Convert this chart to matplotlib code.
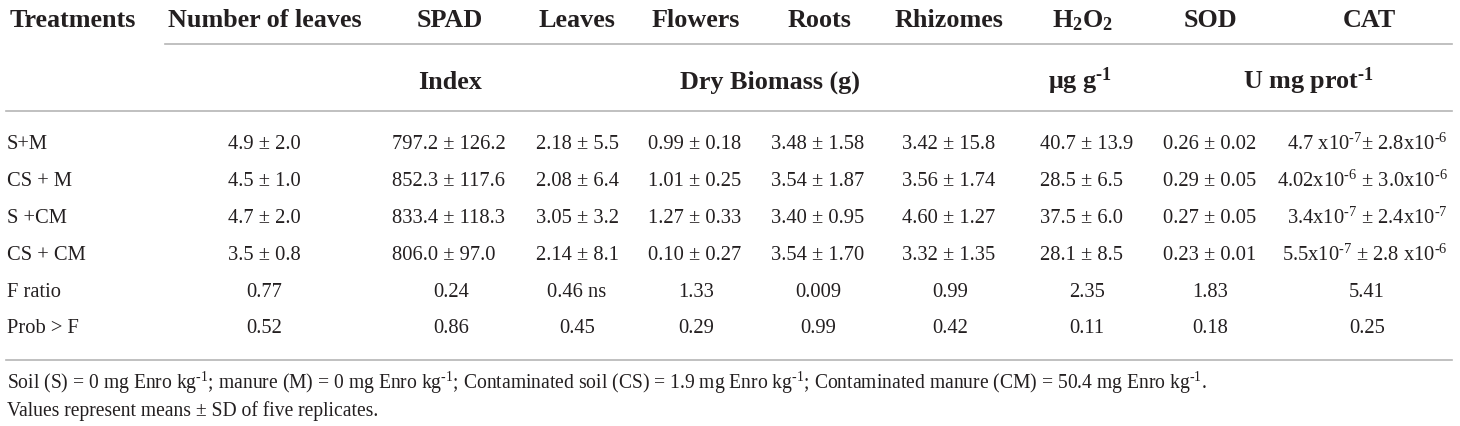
import matplotlib
matplotlib.use("Agg")
import matplotlib.pyplot as plt
from matplotlib.lines import Line2D

plt.rcParams['font.family'] = ['Liberation Serif', 'DejaVu Serif']
plt.rcParams['mathtext.fontset'] = 'custom'
plt.rcParams['mathtext.rm'] = 'Liberation Serif'
plt.rcParams['mathtext.it'] = 'Liberation Serif:italic'
plt.rcParams['mathtext.bf'] = 'Liberation Serif:bold'

HY = '\u2010'  # hyphen used in the superscripts

# ---------------- data ----------------
header_top = ["Treatments", "Number of leaves", "SPAD", "Leaves", "Flowers", "Roots",
              "Rhizomes", r"$\mathbf{H_2O_2}$", "SOD", "CAT"]
unit_index = "Index"
unit_biomass = "Dry Biomass (g)"
unit_h2o2 = r"μg g$^{\mathbf{" + HY + "1}}$"
unit_enzyme = r"U mg prot$^{\mathbf{" + HY + "1}}$"

treatments = ["S+M", "CS + M", "S +CM", "CS + CM"]
number_of_leaves = ["4.9 ± 2.0", "4.5 ± 1.0", "4.7 ± 2.0", "3.5 ± 0.8"]
spad = ["797.2 ± 126.2", "852.3 ± 117.6", "833.4 ± 118.3", "806.0 ± 97.0"]
leaves = ["2.18 ± 5.5", "2.08 ± 6.4", "3.05 ± 3.2", "2.14 ± 8.1"]
flowers = ["0.99 ± 0.18", "1.01 ± 0.25", "1.27 ± 0.33", "0.10 ± 0.27"]
roots = ["3.48 ± 1.58", "3.54 ± 1.87", "3.40 ± 0.95", "3.54 ± 1.70"]
rhizomes = ["3.42 ± 15.8", "3.56 ± 1.74", "4.60 ± 1.27", "3.32 ± 1.35"]
h2o2 = ["40.7 ± 13.9", "28.5 ± 6.5", "37.5 ± 6.0", "28.1 ± 8.5"]
sod = ["0.26 ± 0.02", "0.29 ± 0.05", "0.27 ± 0.05", "0.23 ± 0.01"]
cat = ["4.7 x10$^{" + HY + "7}$± 2.8x10$^{" + HY + "6}$",
       "4.02x10$^{" + HY + "6}$ ± 3.0x10$^{" + HY + "6}$",
       "3.4x10$^{" + HY + "7}$ ± 2.4x10$^{" + HY + "7}$",
       "5.5x10$^{" + HY + "7}$ ± 2.8 x10$^{" + HY + "6}$"]
f_ratio = ["0.77", "0.24", "0.46 ns", "1.33", "0.009", "0.99", "2.35", "1.83", "5.41"]
prob_f = ["0.52", "0.86", "0.45", "0.29", "0.99", "0.42", "0.11", "0.18", "0.25"]
stat_labels = ["F ratio", "Prob > F"]

KG = "kg$^{" + HY + "1}$"
footnotes = ["Soil (S) = 0 mg Enro " + KG + "; manure (M) = 0 mg Enro " + KG + "; "
             "Contaminated soil (CS) = 1.9 mg Enro " + KG + "; Contaminated manure (CM) = 50.4 mg Enro " + KG + ".",
             "Values represent means ± SD of five replicates."]

value_columns = [number_of_leaves, spad, leaves, flowers, roots, rhizomes, h2o2, sod, cat]

# ---------------- layout ----------------
W, H = 1460, 427
TXT = '#231f20'
LINE = '#b5b5b5'
hdr_fs = 18.8
data_fs = 14.8
foot_fs = 14.1

hx = [10, 265, 450, 577, 696, 819, 949, 1083, 1210, 1369]
col_center = [264, 451, 577, 696, 818, 950, 1087, 1210, 1367]
# (x, ha) anchor of the mean ± SD cells
cell_anchor = [(264, 'center'), (392, 'left'), (577, 'center'), (695, 'center'),
               (818, 'center'), (949, 'center'), (1040, 'left'), (1210, 'center'),
               (1448, 'right')]
y_h1, y_h2 = 27, 89
row_base = [149.5, 186.5, 223.5, 260.5, 297.5, 333.5]
foot_base = [389, 416]
y_lines = [45, 112, 361]

fig = plt.figure(figsize=(W / 100, H / 100), dpi=100)
ax = fig.add_axes([0, 0, 1, 1])
ax.set_xlim(0, W)
ax.set_ylim(H, 0)
ax.axis('off')

# header row 1
for i, (lab, x) in enumerate(zip(header_top, hx)):
    ax.text(x, y_h1, lab, ha='left' if i == 0 else 'center', va='baseline',
            fontsize=hdr_fs, fontweight='bold', color=TXT)

# header row 2 (units)
for lab, x in [(unit_index, 450), (unit_biomass, 770), (unit_h2o2, 1080), (unit_enzyme, 1309)]:
    ax.text(x, y_h2, lab, ha='center', va='baseline', fontsize=hdr_fs,
            fontweight='bold', color=TXT)

# rule lines
ax.add_line(Line2D([165, 1452], [y_lines[0]] * 2, color=LINE, lw=1.2))
ax.add_line(Line2D([6, 1452], [y_lines[1]] * 2, color=LINE, lw=1.2))
ax.add_line(Line2D([6, 1452], [y_lines[2]] * 2, color=LINE, lw=1.2))

# body
for r, t in enumerate(treatments):
    ax.text(7, row_base[r], t, ha='left', va='baseline', fontsize=data_fs, color=TXT)
    for c, col in enumerate(value_columns):
        x, ha = cell_anchor[c]
        ax.text(x, row_base[r], col[r], ha=ha, va='baseline', fontsize=data_fs, color=TXT)

for k, (lab, vals) in enumerate(zip(stat_labels, [f_ratio, prob_f])):
    yb = row_base[4 + k]
    ax.text(7, yb, lab, ha='left', va='baseline', fontsize=data_fs, color=TXT)
    for c, v in enumerate(vals):
        ax.text(col_center[c], yb, v, ha='center', va='baseline', fontsize=data_fs, color=TXT)

for fn, yb in zip(footnotes, foot_base):
    ax.text(7, yb, fn, ha='left', va='baseline', fontsize=foot_fs, color=TXT)

fig.savefig("out.png", dpi=100, facecolor='white')
